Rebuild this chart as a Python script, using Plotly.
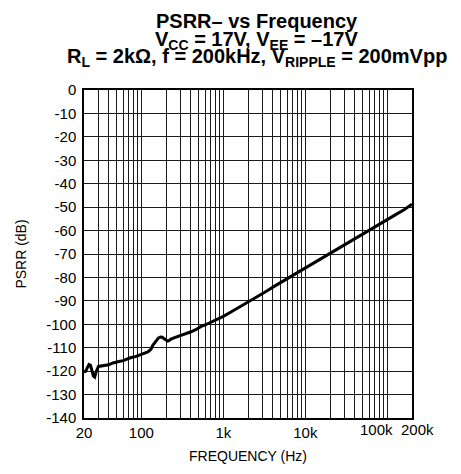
import math
import plotly.graph_objects as go

freq_hz = [20, 21, 22, 23, 24, 25, 26, 27, 28, 30, 33, 36, 40, 45, 50, 55, 60, 67, 75, 85, 96,
           110, 120, 126, 132, 138, 144, 152, 162, 172, 180, 190, 200, 210, 217, 230, 250, 283,
           320, 360, 404, 460, 530, 600, 695, 800, 1000, 1300, 1600, 2000, 2500, 3200, 4270,
           5500, 7000, 10000, 13000, 16000, 20000, 25000, 32000, 40000, 50000, 63000, 80000,
           100000, 125000, 160000, 200000]
psrr_db = [-120.4, -120, -118.5, -117.2, -117.5, -119.5, -122, -122.5, -120.5, -118, -117.8,
           -117.8, -117.3, -116.5, -116, -115.8, -115.5, -114.8, -114.2, -113.8, -113.2,
           -112.5, -111.8, -111.2, -110.5, -109, -108, -106.8, -105.8, -105.4, -105.5, -106.2,
           -106.9, -107.2, -107, -106.3, -105.8, -105.2, -104.5, -103.8, -103.2, -102.3, -101,
           -100.3, -99.3, -98.3, -96.6, -94.3, -92.5, -90.6, -88.5, -86.3, -83.6, -81.3, -79.2,
           -76, -73.7, -71.8, -69.8, -67.7, -65.5, -63.5, -61.5, -59.4, -57.3, -55.3, -53.3,
           -51.1, -48.7]

x_minor_grid = [30, 40, 50, 60, 70, 80, 90, 200, 300, 400, 500, 600, 700, 800, 900,
                2000, 3000, 4000, 5000, 6000, 7000, 8000, 9000, 20000, 30000, 40000,
                50000, 60000, 70000, 80000, 90000, 100000, 200000]
x_tick_vals = [20, 100, 1000, 10000]
x_tick_text = ["20", "100", "1k", "10k"]
x_extra_vals = [100000, 200000]
x_extra_text = ["100k", "200k"]
y_ticks = list(range(0, -141, -10))
y_text = [str(v) for v in y_ticks]

FONT = "Arial, Liberation Sans, sans-serif"
GRID = "#1a1a1a"

fig = go.Figure()
fig.add_trace(go.Scatter(x=freq_hz, y=psrr_db, mode="lines",
                         line=dict(color="black", width=3), showlegend=False))

fig.update_layout(
    width=453, height=466,
    margin=dict(l=64, r=49, t=82, b=47),
    paper_bgcolor="white", plot_bgcolor="white",
    font=dict(family=FONT, size=15, color="black"),
    xaxis=dict(type="log", range=[math.log10(20), math.log10(200000)], tickvals=x_tick_vals,
               ticktext=x_tick_text, tickangle=0,
               showgrid=True, gridcolor=GRID, gridwidth=1, showline=True, mirror=True,
               linecolor="black", linewidth=1.5, zeroline=False, ticks="",
               minor=dict(tickvals=x_minor_grid, showgrid=True,
                          gridcolor=GRID, gridwidth=1, ticks=""),
               tickfont=dict(size=15),
               title=dict(text="FREQUENCY (Hz)", font=dict(size=14), standoff=11)),
    yaxis=dict(range=[-140, 0], tickvals=y_ticks, ticktext=y_text, showgrid=True,
               gridcolor=GRID, gridwidth=1, showline=True, mirror=True, linecolor="black",
               linewidth=1.5, zeroline=False, ticks="", tickfont=dict(size=15),
               ticklabelstandoff=3,
               title=dict(text="PSRR (dB)", font=dict(size=14), standoff=16)),
)

# labels for 100k / 200k (nudged apart as in the reference)
for v, t, shift in zip(x_extra_vals, x_extra_text, [-11, 5]):
    fig.add_annotation(text=t, x=math.log10(v), xref="x", y=0, yref="paper",
                       xanchor="center", yanchor="top", yshift=-1, xshift=shift,
                       showarrow=False, font=dict(family=FONT, size=15, color="black"))

title_lines = [
    "PSRR– vs Frequency",
    "V<sub>CC</sub> = 17V, V<sub>EE</sub> = –17V",
    "R<sub>L</sub> = 2kΩ, f = 200kHz, V<sub>RIPPLE</sub> = 200mVpp",
]
title_bottom = [24, 46, 64]
for txt, yb in zip(title_lines, title_bottom):
    fig.add_annotation(text="<b>" + txt + "</b>", xref="paper", yref="paper",
                       x=(243 - 64) / 340, y=1 + (82 - yb) / 337, xanchor="center",
                       yanchor="bottom", showarrow=False,
                       font=dict(family=FONT, size=20, color="black"))

fig.write_html("out.html")
